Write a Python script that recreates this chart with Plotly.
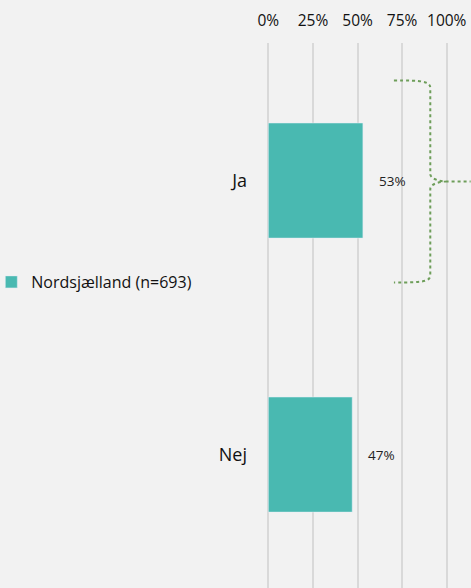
import plotly.graph_objects as go

categories = ["Ja", "Nej"]
values = [0.53, 0.47]
value_labels = ["53%", "47%"]
series_name = "Nordsjælland (n=693)"
tick_vals = [0, 0.25, 0.5, 0.75, 1.0]
tick_text = ["0%", "25%", "50%", "75%", "100%"]

W, H = 471, 588
X0 = 268.0          # pixel of 0%
UNIT = 179.0        # pixels per 100%
XR = [-0.03, 1.08]
L = X0 + XR[0] * UNIT
PW = (XR[1] - XR[0]) * UNIT
T = 43
PH = H - T

def px(xp, yp):
    return (xp - L) / PW, (H - yp) / PH

fig = go.Figure()
fig.add_trace(go.Bar(
    x=values, y=categories, orientation="h", name=series_name,
    marker=dict(color="#49B9B1"), width=0.42, showlegend=True,
))

for c, v, t in zip(categories, values, value_labels):
    fig.add_annotation(x=v, y=c, text=t, showarrow=False, xanchor="left",
                       xshift=14, font=dict(size=13.5, color="#222222"))

def P(p):
    a, b = px(*p)
    return f"{a:.4f},{b:.4f}"
path = (f"M {P((394,80.5))} C {P((422,80.5))} {P((430.5,81))} {P((430.5,88))} "
        f"L {P((430.5,174))} C {P((430.5,179))} {P((440,181.5))} {P((447,181.5))} "
        f"L {P((471,181.5))} "
        f"M {P((447,181.5))} C {P((440,181.5))} {P((430.5,184))} {P((430.5,189))} "
        f"L {P((430.5,275))} C {P((430.5,282))} {P((422,282.5))} {P((394,282.5))}")
fig.add_shape(type="path", path=path, xref="paper", yref="paper",
              line=dict(color="#6E9E5A", width=2, dash="dot"))

fig.update_layout(
    width=W, height=H,
    margin=dict(l=L, r=W - L - PW, t=T, b=0, autoexpand=False),
    paper_bgcolor="#F2F2F2", plot_bgcolor="#F2F2F2",
    font=dict(family="Open Sans, Liberation Sans, sans-serif", color="#111111"),
    showlegend=True,
    legend=dict(xref="paper", yref="container", x=(-10 - L) / PW, y=(H - 282) / H,
                xanchor="left", yanchor="middle", font=dict(size=16),
                bgcolor="rgba(0,0,0,0)", itemwidth=30),
    bargap=0.58,
)
fig.update_xaxes(side="top", range=XR, tickvals=tick_vals, ticktext=tick_text,
                 showgrid=True, gridcolor="#D9D9D9", gridwidth=1.5, zeroline=False,
                 showline=False, ticks="", tickfont=dict(size=15.5), ticklabelstandoff=13,
                 fixedrange=True)
fig.update_yaxes(categoryorder="array", categoryarray=categories,
                 range=[1.487, -0.502], showgrid=False, zeroline=False, ticks="",
                 tickfont=dict(size=18), ticklabelstandoff=15, fixedrange=True)

fig.write_html("out.html", config={"displayModeBar": False},
               post_script="document.body.style.margin='0';document.body.style.background='#F2F2F2';")
